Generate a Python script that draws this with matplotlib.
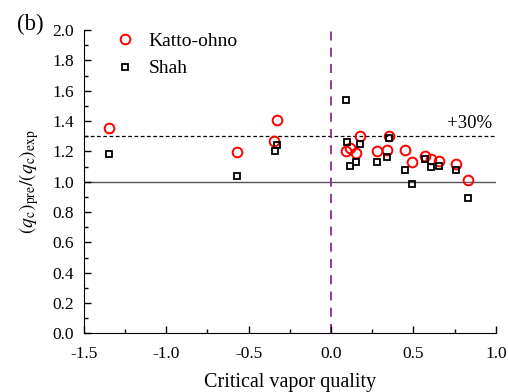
import matplotlib
matplotlib.use("Agg")
import matplotlib.pyplot as plt
from matplotlib.ticker import MultipleLocator

plt.rcParams['font.family'] = ['Liberation Serif', 'DejaVu Serif']
plt.rcParams['mathtext.fontset'] = 'stix'

katto_x = [-1.35, -0.57, -0.328, -0.344, 0.089, 0.117, 0.154, 0.178, 0.279, 0.34, 0.35,
           0.45, 0.49, 0.568, 0.607, 0.653, 0.76, 0.833]
katto_y = [1.353, 1.193, 1.408, 1.27, 1.20, 1.22, 1.19, 1.30, 1.20, 1.21, 1.30,
           1.21, 1.13, 1.17, 1.15, 1.14, 1.12, 1.01]
shah_x = [-1.35, -0.57, -0.328, -0.34, 0.089, 0.098, 0.117, 0.154, 0.178, 0.279, 0.34, 0.35,
          0.45, 0.49, 0.568, 0.607, 0.653, 0.76, 0.833]
shah_y = [1.184, 1.04, 1.243, 1.20, 1.54, 1.265, 1.107, 1.13, 1.25, 1.13, 1.165, 1.29,
          1.08, 0.985, 1.15, 1.10, 1.105, 1.075, 0.89]

fig = plt.figure(figsize=(5.08, 3.92), dpi=100)
ax = fig.add_axes([0.165, 0.1497, 0.811, 0.7733])

ax.axhline(1.0, color='#555555', lw=1.0, zorder=1)
ax.axhline(1.3, color='black', lw=0.9, ls=(0, (3, 2)), zorder=1)
ax.axvline(0.0, color='#8B2A8F', lw=1.3, ls=(0, (5, 4)), zorder=1)

ax.plot(katto_x, katto_y, 'o', ms=7, mfc='none', mec='red', mew=1.4, label='Katto-ohno', zorder=3)
ax.plot(shah_x, shah_y, 's', ms=5, mfc='none', mec='black', mew=1.3, label='Shah', zorder=3)

ax.set_xlim(-1.5, 1.0)
ax.set_ylim(0.0, 2.0)
ax.xaxis.set_major_locator(MultipleLocator(0.5))
ax.xaxis.set_minor_locator(MultipleLocator(0.25))
ax.yaxis.set_major_locator(MultipleLocator(0.2))
ax.yaxis.set_minor_locator(MultipleLocator(0.1))
ax.tick_params(which='both', direction='in', labelsize=12.5)
ax.tick_params(axis='x', which='both', pad=9)
ax.tick_params(axis='y', which='both', pad=7)
ax.tick_params(which='major', length=5, width=1)
ax.tick_params(which='minor', length=3, width=1)
ax.set_xticklabels([f'{v:.1f}' for v in ax.get_xticks()])
ax.set_yticklabels([f'{v:.1f}' for v in ax.get_yticks()])
for s in ['top', 'right']:
    ax.spines[s].set_visible(False)

ax.set_xlabel('Critical vapor quality', fontsize=14.5, labelpad=8)
ax.set_ylabel(r'$(q_\mathrm{c})_\mathrm{pre}/(q_\mathrm{c})_\mathrm{exp}$', fontsize=14, labelpad=8)

ax.text(0.975, 1.33, '+30%', ha='right', va='bottom', fontsize=13.5)
fig.text(0.033, 0.91, '(b)', fontsize=16.5, va='bottom')

ax.legend(loc='upper left', frameon=False, fontsize=14, bbox_to_anchor=(0.02, 1.05),
          handletextpad=0.4, labelspacing=0.5, handlelength=1.6)

fig.savefig('out.png', dpi=100)
